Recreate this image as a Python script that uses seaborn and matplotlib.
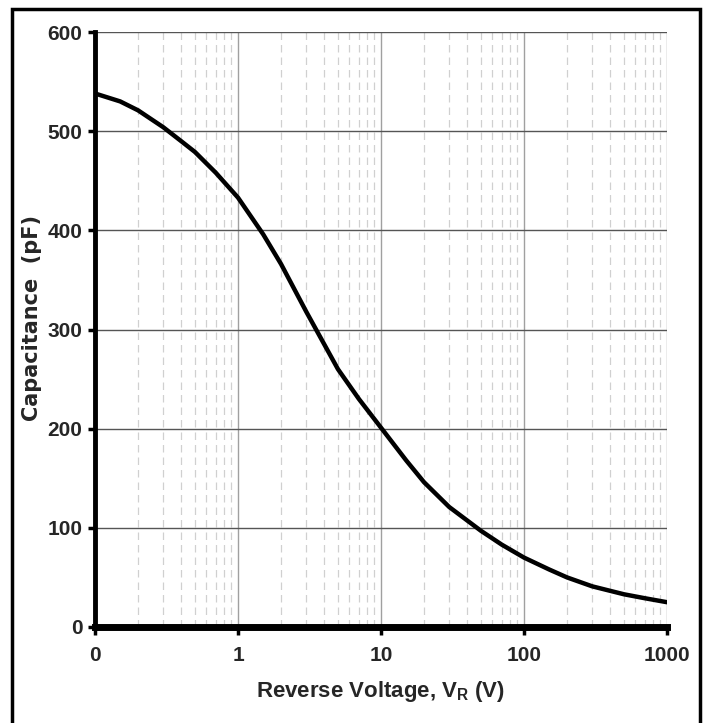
import numpy as np
import pandas as pd
import seaborn as sns
import matplotlib
matplotlib.use("Agg")
import matplotlib.pyplot as plt
from matplotlib.patches import Rectangle
from matplotlib.ticker import FixedLocator, FixedFormatter, LogLocator, NullFormatter

voltage = [0.1, 0.15, 0.2, 0.3, 0.4, 0.5, 0.7, 1, 1.5, 2, 3, 5, 7, 10, 15, 20, 30, 50, 70,
           100, 150, 200, 300, 500, 700, 1000]
capacitance = [538, 530, 521, 504, 490, 479, 458, 433, 396, 366, 318, 260, 230, 201, 168, 146,
               121, 97, 83, 70, 58, 50, 41, 33, 29, 25]
x_ticks = [0.1, 1, 10, 100, 1000]
x_tick_labels = ["0", "1", "10", "100", "1000"]
y_ticks = [0, 100, 200, 300, 400, 500, 600]

sns.set_theme(style="white")
plt.rcParams['font.family'] = ['Liberation Sans', 'DejaVu Sans']

df = pd.DataFrame({"V": voltage, "C": capacitance})

fig = plt.figure(figsize=(7.07, 7.23), dpi=100)
ax = fig.add_axes([95/707, 1 - 627/723, (667-95)/707, (627-32)/723])

ax.set_xscale("log")
ax.set_xlim(0.1, 1000)
ax.set_ylim(0, 600)

ax.xaxis.set_minor_locator(LogLocator(base=10, subs=np.arange(2, 10)))
ax.xaxis.set_minor_formatter(NullFormatter())
ax.grid(True, which="minor", axis="x", color="#d0d0d0", linestyle=(0, (6, 4)), linewidth=0.9)
ax.grid(True, which="major", axis="x", color="#a0a0a0", linestyle="-", linewidth=1.0)
ax.grid(True, which="major", axis="y", color="#555555", linestyle="-", linewidth=1.0)
ax.set_axisbelow(True)

sns.lineplot(data=df, x="V", y="C", ax=ax, color="black", linewidth=3.2)

ax.xaxis.set_major_locator(FixedLocator(x_ticks))
ax.xaxis.set_major_formatter(FixedFormatter(x_tick_labels))
ax.set_yticks(y_ticks)

for s in ["top", "right"]:
    ax.spines[s].set_visible(False)
ax.spines["left"].set_linewidth(3.5)
ax.spines["left"].set_color("black")
ax.spines["bottom"].set_linewidth(5)
ax.spines["bottom"].set_color("black")

ax.tick_params(axis="x", which="major", direction="out", length=6, width=2.5, color="black",
               labelsize=15, pad=8, bottom=True)
ax.tick_params(axis="x", which="minor", length=0)
ax.tick_params(axis="y", which="major", direction="out", length=5, width=2.5, color="black",
               labelsize=15, pad=4, left=True)
for lbl in ax.get_xticklabels() + ax.get_yticklabels():
    lbl.set_fontweight("bold")

ax.set_xlabel("Reverse Voltage, V$_\\mathregular{R}$ (V)", fontsize=16, fontweight="bold", labelpad=10)
ax.set_ylabel("Capacitance  (pF)", fontsize=15, fontweight="bold",
              family=['DejaVu Sans'], labelpad=3)
ax.yaxis.set_label_coords(-0.093, 0.52)

fig.patches.append(Rectangle((12/707, -0.05), (700-12)/707, 1.05 - 9/723,
                             transform=fig.transFigure, fill=False,
                             edgecolor="black", linewidth=2.5, zorder=0))

fig.savefig("out.png", dpi=100)
